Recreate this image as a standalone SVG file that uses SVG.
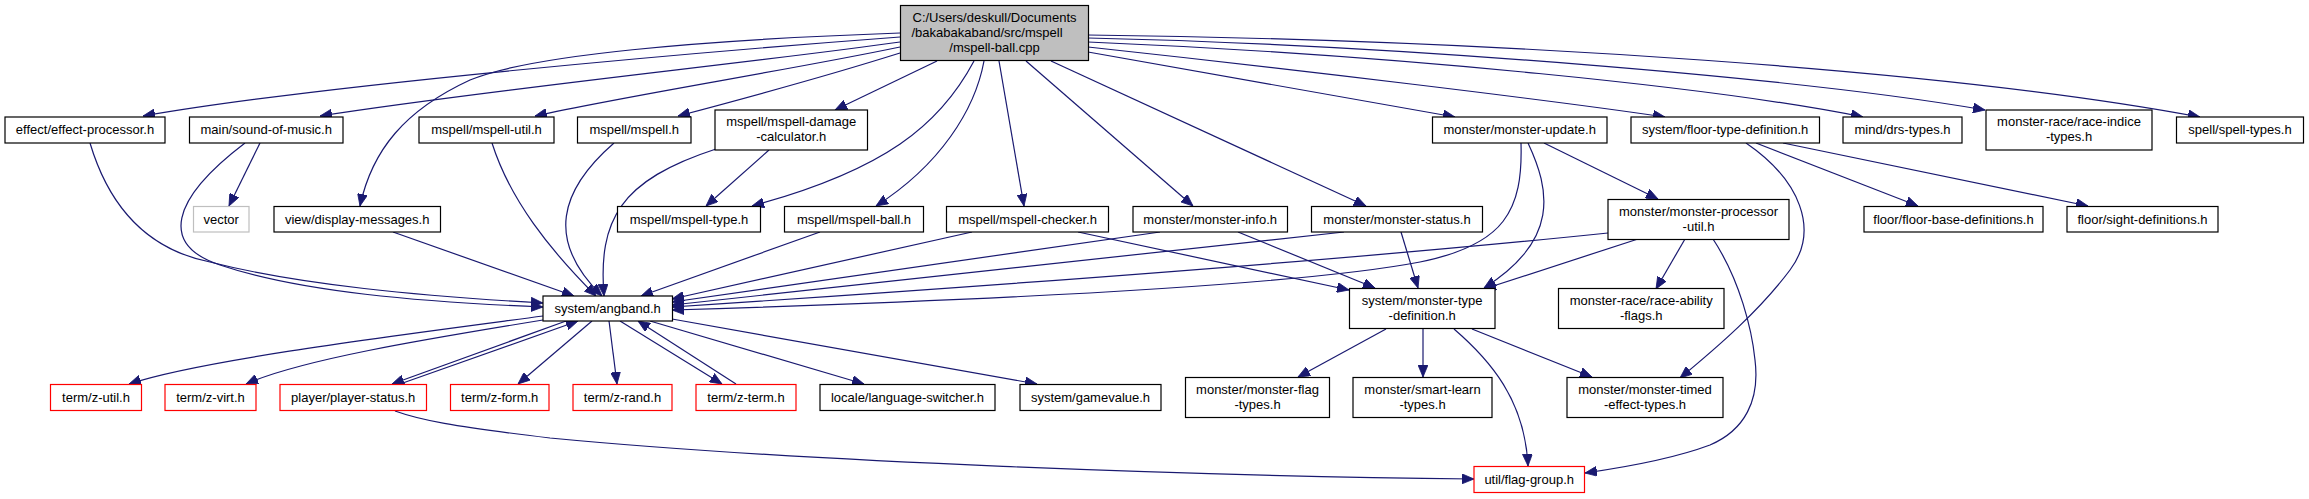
<svg xmlns="http://www.w3.org/2000/svg" width="2309" height="499" viewBox="0 0 2309 499">
<style>
.n rect{fill:#ffffff;stroke:#000000;stroke-width:1.2}
.n.r rect{stroke:#ff0000}
.n.g rect{stroke:#bfbfbf}
.n.root rect{fill:#bfbfbf}
.n text{font-family:"Liberation Sans",Arial,sans-serif;font-size:13px;fill:#000000;text-anchor:middle}
#edges path{fill:none;stroke:#191970;stroke-width:1.2;marker-end:url(#ah)}
</style>
<defs>
<marker id="ah" viewBox="0 0 12 10" refX="12" refY="5" markerWidth="12" markerHeight="10" markerUnits="userSpaceOnUse" orient="auto">
<path d="M0,0 L12,5 L0,10 z" fill="#191970" stroke="#191970" stroke-width="0.8"/>
</marker>
</defs>
<rect width="2309" height="499" fill="#ffffff"/>
<g id="edges">
<path d="M900,37 C700,52 320,85 143,116"/>
<path d="M900,42 C760,62 500,88 320,116"/>
<path d="M900,33 C700,40 530,55 470,80 C405,110 372,150 360,206"/>
<path d="M900,47 C790,70 630,95 535,116"/>
<path d="M900,53 C830,75 750,97 678,116"/>
<path d="M937,61 L835,110"/>
<path d="M974,61 C940,125 885,170 752,206"/>
<path d="M984,61 C975,110 940,165 876,206"/>
<path d="M999,61 L1024,206"/>
<path d="M1026,61 L1193,206"/>
<path d="M1051,61 L1366,206"/>
<path d="M1088,52 L1455,117"/>
<path d="M1088,47 C1300,70 1550,100 1665,117"/>
<path d="M1088,42 C1400,55 1720,88 1863,117"/>
<path d="M1088,38 C1400,45 1800,78 1985,110"/>
<path d="M1088,35 C1500,40 1950,70 2200,117"/>
<path d="M90,143 C110,210 150,250 210,262 C300,285 420,296 543,303"/>
<path d="M245,143 C170,200 160,245 220,265 C300,292 420,302 543,307"/>
<path d="M260,143 L229,206"/>
<path d="M492,143 C510,200 550,250 596,296"/>
<path d="M614,143 C560,190 545,240 602,296"/>
<path d="M716,149 C620,180 598,220 604,296"/>
<path d="M769,150 L706,206"/>
<path d="M393,232 L574,296"/>
<path d="M820,232 L641,296"/>
<path d="M972,232 L672,299"/>
<path d="M1078,232 L1349,290"/>
<path d="M1160,232 L672,302"/>
<path d="M1238,232 L1375,288"/>
<path d="M1344,232 L672,305"/>
<path d="M1401,232 L1418,288"/>
<path d="M1521,143 C1523,210 1505,245 1420,262 C1300,285 1000,300 672,310"/>
<path d="M1528,143 C1550,190 1560,240 1484,288"/>
<path d="M1544,143 L1658,199"/>
<path d="M1608,233 C1300,265 900,292 672,307"/>
<path d="M1638,239 L1484,289"/>
<path d="M1685,239 L1656,289"/>
<path d="M1713,239 C1740,280 1752,330 1755,360 C1760,400 1745,430 1710,445 C1670,460 1620,468 1585,473"/>
<path d="M1746,143 C1800,180 1820,230 1790,270 C1760,310 1720,345 1680,378"/>
<path d="M1756,143 L1918,206"/>
<path d="M1783,143 L2088,206"/>
<path d="M543,316 C400,335 200,360 129,384"/>
<path d="M543,320 C420,340 300,360 246,384"/>
<path d="M566,321 L392,384"/>
<path d="M400,384 L578,321"/>
<path d="M592,321 L518,384"/>
<path d="M609,321 L617,384"/>
<path d="M620,321 L722,384"/>
<path d="M736,384 L638,321"/>
<path d="M650,321 L864,384"/>
<path d="M672,319 L1037,384"/>
<path d="M1386,329 L1298,377"/>
<path d="M1423,329 L1423,377"/>
<path d="M1454,329 C1490,360 1525,400 1528,466"/>
<path d="M1472,329 L1592,377"/>
<path d="M395,411 C420,420 450,426 550,438 C800,462 1200,476 1474,479"/>
</g>
<g id="root" class="n root"><rect x="900.5" y="5.5" width="188" height="55"/><text x="994.5" y="22">C:/Users/deskull/Documents</text><text x="987" y="37">/bakabakaband/src/mspell</text><text x="994.5" y="51.5">/mspell-ball.cpp</text></g>
<g id="effect-processor" class="n"><rect x="5" y="117" width="160" height="26"/><text x="85" y="134">effect/effect-processor.h</text></g>
<g id="sound-of-music" class="n"><rect x="189.5" y="117" width="153.5" height="26"/><text x="266.2" y="134">main/sound-of-music.h</text></g>
<g id="mspell-util" class="n"><rect x="419" y="117" width="135" height="26"/><text x="486.5" y="134">mspell/mspell-util.h</text></g>
<g id="mspell" class="n"><rect x="577.5" y="117" width="113.5" height="26"/><text x="634.2" y="134">mspell/mspell.h</text></g>
<g id="mspell-damage-calculator" class="n"><rect x="715" y="110" width="152.5" height="40"/><text x="791.2" y="126">mspell/mspell-damage</text><text x="791.2" y="141">-calculator.h</text></g>
<g id="monster-update" class="n"><rect x="1432.5" y="117" width="174.5" height="26"/><text x="1519.7" y="134">monster/monster-update.h</text></g>
<g id="floor-type-definition" class="n"><rect x="1631" y="117" width="188.5" height="26"/><text x="1725.2" y="134">system/floor-type-definition.h</text></g>
<g id="drs-types" class="n"><rect x="1843" y="117" width="119" height="26"/><text x="1902.5" y="134">mind/drs-types.h</text></g>
<g id="race-indice-types" class="n"><rect x="1986" y="110" width="166" height="40"/><text x="2069" y="126">monster-race/race-indice</text><text x="2069" y="141">-types.h</text></g>
<g id="spell-types" class="n"><rect x="2176.5" y="117" width="127" height="26"/><text x="2240" y="134">spell/spell-types.h</text></g>
<g id="vector" class="n g"><rect x="193.5" y="206.5" width="55.5" height="25.5"/><text x="221.2" y="223.5">vector</text></g>
<g id="display-messages" class="n"><rect x="274" y="206.5" width="166.5" height="25.5"/><text x="357.2" y="223.5">view/display-messages.h</text></g>
<g id="mspell-type" class="n"><rect x="617.5" y="206.5" width="143" height="25.5"/><text x="689" y="223.5">mspell/mspell-type.h</text></g>
<g id="mspell-ball" class="n"><rect x="784.5" y="206.5" width="139" height="25.5"/><text x="854" y="223.5">mspell/mspell-ball.h</text></g>
<g id="mspell-checker" class="n"><rect x="946.5" y="206.5" width="162" height="25.5"/><text x="1027.5" y="223.5">mspell/mspell-checker.h</text></g>
<g id="monster-info" class="n"><rect x="1133" y="206.5" width="154.5" height="25.5"/><text x="1210.2" y="223.5">monster/monster-info.h</text></g>
<g id="monster-status" class="n"><rect x="1311.5" y="206.5" width="171" height="25.5"/><text x="1397" y="223.5">monster/monster-status.h</text></g>
<g id="monster-processor-util" class="n"><rect x="1608" y="199.5" width="181" height="40"/><text x="1698.5" y="215.5">monster/monster-processor</text><text x="1698.5" y="230.5">-util.h</text></g>
<g id="floor-base-definitions" class="n"><rect x="1864" y="206.5" width="179" height="25.5"/><text x="1953.5" y="223.5">floor/floor-base-definitions.h</text></g>
<g id="sight-definitions" class="n"><rect x="2067" y="206.5" width="151" height="25.5"/><text x="2142.5" y="223.5">floor/sight-definitions.h</text></g>
<g id="angband" class="n"><rect x="543" y="296" width="129.5" height="25"/><text x="607.7" y="312.5">system/angband.h</text></g>
<g id="monster-type-definition" class="n"><rect x="1349.5" y="288.5" width="145.5" height="40"/><text x="1422.2" y="304.5">system/monster-type</text><text x="1422.2" y="319.5">-definition.h</text></g>
<g id="race-ability-flags" class="n"><rect x="1558.5" y="288.5" width="165.5" height="40"/><text x="1641.2" y="304.5">monster-race/race-ability</text><text x="1641.2" y="319.5">-flags.h</text></g>
<g id="z-util" class="n r"><rect x="50.5" y="384.5" width="91" height="26"/><text x="96" y="401.5">term/z-util.h</text></g>
<g id="z-virt" class="n r"><rect x="165" y="384.5" width="91" height="26"/><text x="210.5" y="401.5">term/z-virt.h</text></g>
<g id="player-status" class="n r"><rect x="280" y="384.5" width="146.5" height="26"/><text x="353.2" y="401.5">player/player-status.h</text></g>
<g id="z-form" class="n r"><rect x="450.5" y="384.5" width="98.5" height="26"/><text x="499.7" y="401.5">term/z-form.h</text></g>
<g id="z-rand" class="n r"><rect x="573" y="384.5" width="99" height="26"/><text x="622.5" y="401.5">term/z-rand.h</text></g>
<g id="z-term" class="n r"><rect x="696" y="384.5" width="100" height="26"/><text x="746" y="401.5">term/z-term.h</text></g>
<g id="language-switcher" class="n"><rect x="820" y="384.5" width="175" height="26"/><text x="907.5" y="401.5">locale/language-switcher.h</text></g>
<g id="gamevalue" class="n"><rect x="1020" y="384.5" width="141" height="26"/><text x="1090.5" y="401.5">system/gamevalue.h</text></g>
<g id="monster-flag-types" class="n"><rect x="1185.5" y="377.5" width="144" height="40"/><text x="1257.5" y="393.5">monster/monster-flag</text><text x="1257.5" y="408.5">-types.h</text></g>
<g id="smart-learn-types" class="n"><rect x="1353" y="377.5" width="139" height="40"/><text x="1422.5" y="393.5">monster/smart-learn</text><text x="1422.5" y="408.5">-types.h</text></g>
<g id="monster-timed-effect-types" class="n"><rect x="1567" y="377.5" width="156" height="40"/><text x="1645" y="393.5">monster/monster-timed</text><text x="1645" y="408.5">-effect-types.h</text></g>
<g id="flag-group" class="n r"><rect x="1474" y="466.5" width="110.5" height="26"/><text x="1529.2" y="483.5">util/flag-group.h</text></g>
</svg>
